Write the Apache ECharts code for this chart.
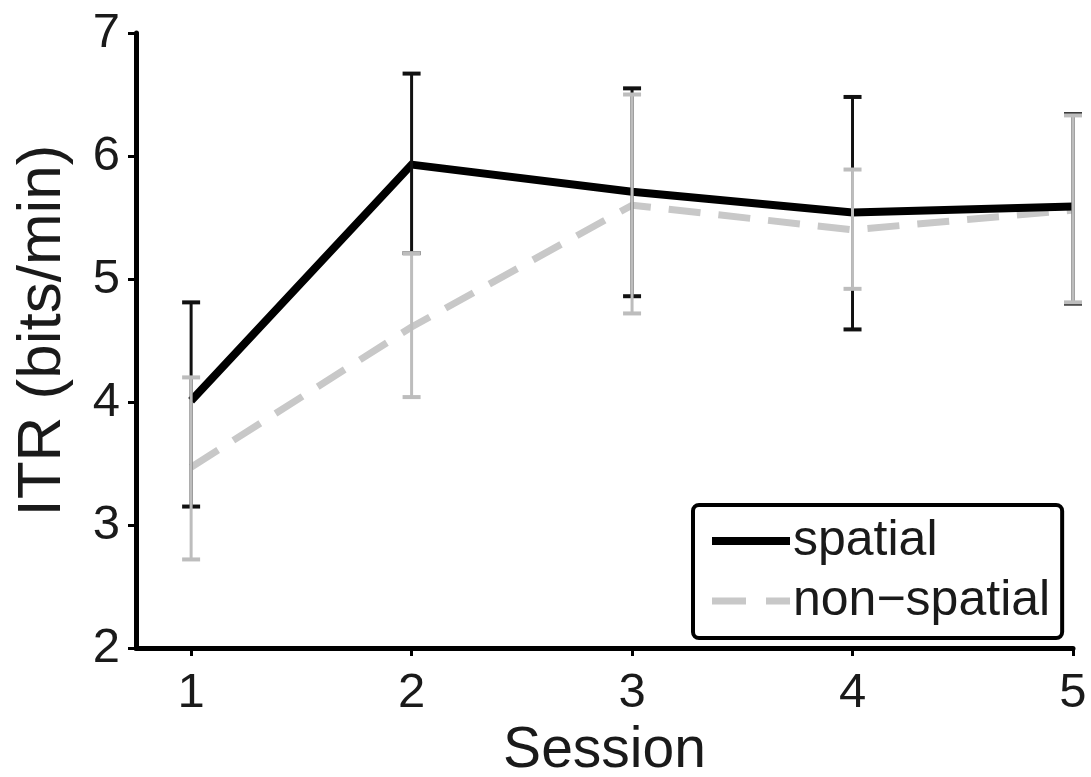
<!DOCTYPE html>
<html>
<head>
<meta charset="utf-8">
<script src="https://cdn.jsdelivr.net/npm/echarts@6/dist/echarts.min.js"></script>
<style>
html,body{margin:0;padding:0;background:#fff;}
#chart{width:1091px;height:777px;}
</style>
</head>
<body>
<div id="chart"></div>
<script>
const sessions = [1, 2, 3, 4, 5];
const xTicks = [1, 2, 3, 4, 5];
const yTicks = [2, 3, 4, 5, 6, 7];
const spatialMean = [4.01, 5.93, 5.71, 5.54, 5.59];
const spatialLow  = [3.15, 5.21, 4.86, 4.59, 4.80];
const spatialHigh = [4.81, 6.67, 6.55, 6.48, 6.34];
const nonSpatialMean = [3.47, 4.61, 5.60, 5.40, 5.56];
const nonSpatialLow  = [2.72, 4.04, 4.72, 4.92, 4.81];
const nonSpatialHigh = [4.20, 5.21, 6.50, 5.89, 6.33];

const FONT = 'Liberation Sans, Arial, Helvetica, sans-serif';
const chart = echarts.init(document.getElementById('chart'));

function errorBar(color, width, cap) {
  return function (params, api) {
    const x = api.value(0);
    const lo = api.coord([x, api.value(1)]);
    const hi = api.coord([x, api.value(2)]);
    const style = { stroke: color, lineWidth: width };
    return {
      type: 'group',
      children: [
        { type: 'line', shape: { x1: lo[0], y1: lo[1], x2: hi[0], y2: hi[1] }, style },
        { type: 'line', shape: { x1: lo[0] - cap, y1: lo[1], x2: lo[0] + cap, y2: lo[1] }, style: { stroke: color, lineWidth: width + 1 } },
        { type: 'line', shape: { x1: hi[0] - cap, y1: hi[1], x2: hi[0] + cap, y2: hi[1] }, style: { stroke: color, lineWidth: width + 1 } }
      ]
    };
  };
}

const option = {
  backgroundColor: '#ffffff',
  animation: false,
  grid: { left: 136, right: 18, top: 33, bottom: 129, containLabel: false, outerBoundsMode: 'none' },
  legend: {
    orient: 'vertical',
    left: 693,
    top: 505,
    padding: [11, 12, 12, 15],
    itemGap: 10,
    itemWidth: 78,
    itemHeight: 20,
    borderColor: '#000',
    borderWidth: 4,
    borderRadius: 6,
    backgroundColor: '#fff',
    textStyle: { fontFamily: FONT, fontSize: 50, color: '#1a1a1a', lineHeight: 50, padding: [0, 0, 0, -2] },
    data: [
      { name: 'spatial', itemStyle: { opacity: 0, color: 'rgba(0,0,0,0)', borderWidth: 0 },
        lineStyle: { color: '#000', width: 8, type: 'solid' } },
      { name: 'non\u2212spatial', itemStyle: { opacity: 0, color: 'rgba(0,0,0,0)', borderWidth: 0 },
        lineStyle: { color: '#c8c8c8', width: 7, type: [34, 20] } }
    ]
  },
  xAxis: {
    type: 'value',
    min: 0.75,
    max: 5,
    name: 'Session',
    nameLocation: 'middle',
    nameGap: 74,
    nameTextStyle: { fontFamily: FONT, fontSize: 57, color: '#1a1a1a' },
    axisLine: { show: true, lineStyle: { color: '#000', width: 5 } },
    axisTick: { show: true, customValues: xTicks, length: 8, lineStyle: { color: '#000', width: 3 } },
    axisLabel: { customValues: xTicks, margin: 21, fontFamily: FONT, fontSize: 49, color: '#1a1a1a' },
    splitLine: { show: false }
  },
  yAxis: {
    type: 'value',
    min: 2,
    max: 7,
    interval: 1,
    name: 'ITR (bits/min)',
    nameLocation: 'middle',
    nameGap: 62,
    nameRotate: 90,
    nameTextStyle: { fontFamily: FONT, fontSize: 62, color: '#1a1a1a', padding: [0, 0, 0, 20] },
    axisLine: { show: true, lineStyle: { color: '#000', width: 5 } },
    axisTick: { show: true, customValues: yTicks, length: 8, lineStyle: { color: '#000', width: 3 } },
    axisLabel: { customValues: yTicks, margin: 16, fontFamily: FONT, fontSize: 49, color: '#1a1a1a' },
    splitLine: { show: false }
  },
  series: [
    {
      name: 'non\u2212spatial',
      type: 'line',
      z: 2,
      symbol: 'none',
      data: sessions.map((s, i) => [s, nonSpatialMean[i]]),
      lineStyle: { color: '#c8c8c8', width: 7, type: [32, 18], cap: 'butt' },
      itemStyle: { color: '#c8c8c8' }
    },
    {
      name: 'spatial',
      type: 'line',
      z: 3,
      symbol: 'none',
      data: sessions.map((s, i) => [s, spatialMean[i]]),
      lineStyle: { color: '#000', width: 8, join: 'miter' },
      itemStyle: { color: '#000' }
    },
    {
      name: 'spatialErr',
      type: 'custom',
      z: 4,
      renderItem: errorBar('#111', 3, 9),
      encode: { x: 0, y: [1, 2] },
      data: sessions.map((s, i) => [s, spatialLow[i], spatialHigh[i]])
    },
    {
      name: 'nonSpatialErr',
      type: 'custom',
      z: 5,
      renderItem: errorBar('#bdbdbd', 3, 9),
      encode: { x: 0, y: [1, 2] },
      data: sessions.map((s, i) => [s, nonSpatialLow[i], nonSpatialHigh[i]])
    }
  ]
};
chart.setOption(option);
</script>
</body>
</html>
